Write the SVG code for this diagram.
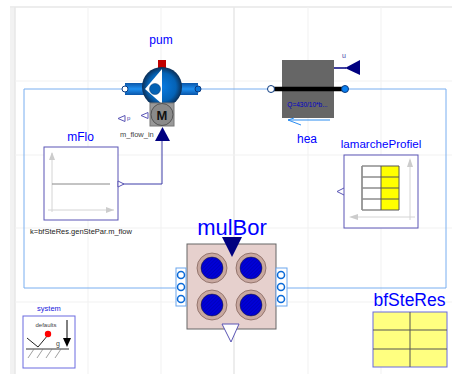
<svg xmlns="http://www.w3.org/2000/svg" width="452" height="374" viewBox="0 0 452 374">
<style>
text{font-family:"Liberation Sans",Arial,sans-serif}
.n{fill:#0000ff;text-anchor:middle}
.s{fill:#444;font-size:7.5px}
.g{stroke:#f1f1f1;stroke-width:1;fill:none}
.G{stroke:#e8e8e8;stroke-width:1.500;fill:none}
.b{fill:#fff;stroke:#5a55b5;stroke-width:1}
.p{fill:#fff;stroke:#0a6ad8;stroke-width:1.5}
.a{stroke:#d4d4d4;stroke-width:1;fill:none}
.ah{fill:#ccc}
.t{stroke:#555;stroke-width:1;fill:none}
.h{fill:#c8a8a0;stroke:#7a5a52;stroke-width:.7}
</style>
<defs>
<radialGradient id="sph" cx="50%" cy="50%" r="50%"><stop offset="0" stop-color="#0a7ae0"/><stop offset=".7" stop-color="#0462b5"/><stop offset="1" stop-color="#0b2f57"/></radialGradient>
<linearGradient id="pipe" x1="0" y1="0" x2="0" y2="1"><stop offset="0" stop-color="#0a55a8"/><stop offset=".5" stop-color="#1e8ff0"/><stop offset="1" stop-color="#0a55a8"/></linearGradient>
<pattern id="hatch" width="2.500" height="2.500" patternUnits="userSpaceOnUse" patternTransform="rotate(45)"><rect width="2.500" height="2.500" fill="#0000d8"/><path d="M0 0V2.500" stroke="#00008c" stroke-width=".6"/></pattern>
</defs>
<g id="grid">
<rect x="10" y="8" width="5" height="366" fill="#f2f2f2"/>
<path class="G" d="M10 7H452M15 7V374M234 7V374"/>
<path class="g" d="M88 7V374M161 7V374M308 7V374M381 7V374M15 81H452M15 155H452M15 228H452M15 302H452"/>
</g>
<g id="connectors" fill="none">
<path d="M125 89H24V288H177M283 288H446V89H345M198 89H271" stroke="#78aef0" stroke-width="1"/>
<path d="M122 184H162V141" stroke="#3c3ca8" stroke-width="1"/>
</g>
<g id="pum">
<text class="n" x="161" y="44" font-size="12">pum</text>
<rect x="125" y="83" width="73" height="12" fill="url(#pipe)"/>
<rect x="158" y="60" width="8" height="8" fill="#c00000"/>
<circle cx="162" cy="87" r="20" fill="url(#sph)"/>
<path d="M162 69L145 89L162 104Z" fill="#fff"/>
<circle cx="155" cy="89" r="5.500" fill="#0462b5" stroke="#07396e" stroke-width=".5"/>
<rect x="150" y="103" width="24" height="23" fill="#999" stroke="#777"/>
<circle cx="162" cy="114.500" r="11" fill="#8a8a8a" stroke="#555"/>
<text x="162" y="119.500" font-size="13" font-weight="bold" text-anchor="middle" fill="#111">M</text>
<circle cx="125" cy="89" r="3" fill="#fff" stroke="#0a3a80"/>
<circle cx="198" cy="89" r="3" fill="#0a75d8" stroke="#0a3a80" stroke-width="1"/>
<path d="M155 141H170L162.500 127Z" fill="#000080"/>
<path d="M118 118.500L125 115.500V121.500Z" fill="none" stroke="#5a55b5"/>
<text x="127" y="120" font-size="6" fill="#4444aa">p</text>
<path d="M141 115.500L148 112.500V118.500Z" fill="none" stroke="#5a55b5"/>
<text class="s" x="120" y="137">m_flow_in</text>
</g>
<g id="hea">
<rect x="282" y="60" width="52" height="58" fill="#666"/>
<path d="M271 89H345" stroke="#000" stroke-width="4.500"/>
<circle cx="271" cy="89" r="3.500" fill="#fff" stroke="#0a3a80"/>
<circle cx="345" cy="89" r="3.500" fill="#0a80f0" stroke="#0a3a80"/>
<path d="M334 68H346" stroke="#000080" stroke-width="1.500"/>
<path d="M360 60V75L345 68Z" fill="#000080"/>
<text x="344" y="58" font-size="7" fill="#4444aa" text-anchor="middle">u</text>
<text x="307.500" y="107" font-size="6.500" fill="#0000c8" text-anchor="middle">Q=430/10*b...</text>
<path d="M288 120H330M288 120L301 125M288 120L294 118" stroke="#2a8cf0" stroke-width="1" fill="none"/>
<text class="n" x="307" y="143" font-size="12">hea</text>
</g>
<g id="mFlo">
<text class="n" x="80.500" y="141" font-size="12">mFlo</text>
<rect class="b" x="44" y="147" width="74" height="73"/>
<path class="a" d="M52 153V212M48 210H114"/>
<path class="ah" d="M52 152L49 160H55ZM114 210L106 207V213Z"/>
<path d="M52 184H110" stroke="#888" stroke-width="1"/>
<path d="M118 181L124 184L118 187Z" fill="#fff" stroke="#5a55b5"/>
<text x="30" y="234" font-size="7.500" fill="#222">k=bfSteRes.genStePar.m_flow</text>
</g>
<g id="lamarcheProfiel">
<text class="n" x="381" y="148" font-size="11.600">lamarcheProfiel</text>
<rect class="b" x="344" y="155" width="74" height="73"/>
<path class="a" d="M410 160V220M352 217H415"/>
<path class="ah" d="M410 158L407 167H413ZM349 217L358 214V220Z"/>
<rect x="381" y="166" width="18" height="44" fill="#ff0"/>
<path d="M362 166H399V210H362ZM362 177H399M362 188H399M362 199H399M381 166V210" fill="none" stroke="#555"/>
<path d="M362 166V210" stroke="#999" stroke-width="1.500"/>
<path d="M344 188L337 191.500L344 195" fill="none" stroke="#5a55b5"/>
</g>
<g id="mulBor">
<text class="n" x="232" y="235" font-size="22">mulBor</text>
<rect x="187" y="244" width="89" height="85" fill="#e6d0cd" stroke="#666"/>
<rect x="176" y="268" width="10" height="38" fill="#fff" stroke="#6aa6ee"/>
<rect x="276" y="268" width="11" height="38" fill="#fff" stroke="#6aa6ee"/>
<circle class="p" cx="181" cy="275" r="3.500"/><circle class="p" cx="181" cy="287" r="3.500"/><circle class="p" cx="181" cy="299" r="3.500"/>
<circle class="p" cx="281" cy="275" r="3.500"/><circle class="p" cx="281" cy="287" r="3.500"/><circle class="p" cx="281" cy="299" r="3.500"/>
<circle class="h" cx="212" cy="268" r="15"/><circle class="h" cx="251" cy="268" r="15"/><circle class="h" cx="212" cy="305" r="15"/><circle class="h" cx="251" cy="305" r="15"/>
<g fill="url(#hatch)" stroke="#222" stroke-width=".5">
<circle cx="212" cy="268" r="11"/><circle cx="251" cy="268" r="11"/><circle cx="212" cy="305" r="11"/><circle cx="251" cy="305" r="11"/>
</g>
<path d="M222 237H242L232 257Z" fill="#000080"/>
<path d="M222 324H239L231 342Z" fill="#fff" stroke="#5a55b5"/>
</g>
<g id="system">
<text x="49" y="311" font-size="7.500" fill="#2222dd" text-anchor="middle">system</text>
<rect x="23" y="316" width="52" height="52" fill="#fff" stroke="#6a6ae0"/>
<text x="46" y="327" font-size="6" fill="#444" text-anchor="middle">defaults</text>
<path d="M27 338L38 347L48 335" fill="none" stroke="#222" stroke-width="1"/>
<circle cx="48" cy="334" r="3.200" fill="#f00"/>
<path d="M26 349H69" stroke="#333"/>
<path d="M34 349L28 358M43 349L37 358M52 349L46 358M61 349L55 358" stroke="#777" stroke-width=".7"/>
<text x="58" y="346" font-size="7" fill="#444" text-anchor="middle">g</text>
<path d="M67 320V340" stroke="#000"/>
<path d="M63 338H71L67 347Z" fill="#000"/>
</g>
<g id="bfSteRes">
<text class="n" x="409.500" y="306" font-size="17.500">bfSteRes</text>
<rect x="373" y="312" width="74" height="55" fill="#ffff80" stroke="#6a6ae0"/>
<path d="M373 330H447M373 349H447M410 312V367" stroke="#555" fill="none"/>
</g>
</svg>
